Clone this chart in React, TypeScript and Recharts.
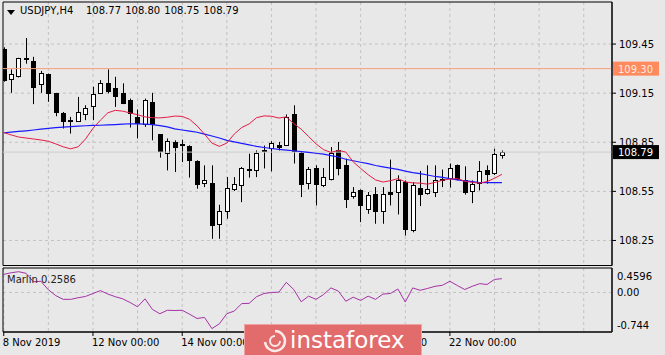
import React from 'react'
import {
  ComposedChart,
  Bar,
  Line,
  XAxis,
  YAxis,
  CartesianGrid,
  ReferenceLine,
  ReferenceArea,
} from 'recharts'

// USDJPY H4, bar 0 = 8 Nov 2019 00:00
const opens = [
  109.42, 109.234, 109.254, 109.365, 109.348, 109.205, 109.27, 109.152, 109.026, 108.985,
  108.98, 109.021, 109.07, 109.154, 109.21, 109.179, 109.152, 109.111, 109.005, 108.96,
  109.097, 108.899, 108.784, 108.852, 108.838, 108.825, 108.735, 108.603, 108.603, 108.352,
  108.433, 108.562, 108.587, 108.683, 108.678, 108.8, 108.817, 108.836, 108.836, 109.02,
  108.787, 108.603, 108.695, 108.587, 108.628, 108.801, 108.709, 108.519, 108.556, 108.444,
  108.536, 108.427, 108.546, 108.546, 108.607, 108.311, 108.572, 108.54, 108.546, 108.625,
  108.634, 108.709, 108.617, 108.552, 108.6, 108.683, 108.66, 108.77,
]
const highs = [
  109.43, 109.295, 109.366, 109.487, 109.372, 109.286, 109.27, 109.152, 109.035, 109.005,
  109.127, 109.076, 109.189, 109.23, 109.295, 109.25, 109.21, 109.117, 109.05, 109.117,
  109.152, 108.9, 108.873, 108.862, 108.866, 108.832, 108.74, 108.709, 108.709, 108.468,
  108.637, 108.637, 108.699, 108.78, 108.8, 108.83, 108.856, 108.852, 109.02, 109.076,
  108.79, 108.699, 108.709, 108.693, 108.821, 108.852, 108.75, 108.576, 108.562, 108.546,
  108.576, 108.576, 108.744, 108.648, 108.617, 108.607, 108.675, 108.709, 108.709, 108.683,
  108.72, 108.714, 108.703, 108.617, 108.735, 108.709, 108.81, 108.8,
]
const lows = [
  109.22, 109.152, 109.246, 109.33, 109.083, 109.152, 109.097, 109.009, 108.934, 108.903,
  108.978, 108.985, 108.985, 109.148, 109.148, 109.066, 109.083, 108.94, 108.873, 108.944,
  108.862, 108.756, 108.678, 108.668, 108.729, 108.634, 108.566, 108.576, 108.26, 108.26,
  108.383, 108.552, 108.484, 108.634, 108.637, 108.69, 108.672, 108.8, 108.832, 108.72,
  108.515, 108.562, 108.464, 108.576, 108.617, 108.648, 108.448, 108.505, 108.362, 108.413,
  108.352, 108.352, 108.464, 108.409, 108.28, 108.3, 108.46, 108.53, 108.515, 108.576,
  108.573, 108.617, 108.53, 108.478, 108.556, 108.597, 108.65, 108.75,
]
const closes = [
  109.23, 109.27, 109.362, 109.362, 109.189, 109.274, 109.152, 109.035, 108.978, 108.98,
  109.035, 109.062, 109.144, 109.215, 109.162, 109.133, 109.09, 109.03, 108.968, 109.111,
  108.96, 108.797, 108.858, 108.821, 108.84, 108.744, 108.597, 108.617, 108.346, 108.427,
  108.572, 108.597, 108.693, 108.686, 108.787, 108.802, 108.848, 108.821, 109.005, 108.795,
  108.597, 108.685, 108.597, 108.637, 108.787, 108.693, 108.505, 108.546, 108.464, 108.525,
  108.433, 108.536, 108.532, 108.617, 108.321, 108.587, 108.531, 108.567, 108.617, 108.628,
  108.693, 108.625, 108.546, 108.597, 108.674, 108.654, 108.78, 108.79,
]
const maFast = [
  108.909, 108.895, 108.882, 108.876, 108.87, 108.864, 108.856, 108.84, 108.822, 108.81,
  108.822, 108.87, 108.935, 108.985, 109.03, 109.045, 109.04, 109.029, 109.018, 109.005,
  109.0, 108.999, 109.003, 109.01, 109.008, 108.99, 108.95, 108.9, 108.845, 108.825,
  108.845, 108.9, 108.94, 108.962, 109.0, 109.011, 109.009, 108.998, 109.005, 108.964,
  108.93, 108.885, 108.84, 108.805, 108.788, 108.8, 108.79, 108.73, 108.69, 108.652,
  108.62, 108.607, 108.615, 108.628, 108.608, 108.602, 108.6, 108.594, 108.605, 108.618,
  108.625, 108.628, 108.612, 108.605, 108.6, 108.61, 108.63, 108.654,
]
const maSlow = [
  108.908, 108.912, 108.916, 108.92, 108.925, 108.93, 108.935, 108.94, 108.943, 108.946,
  108.949, 108.951, 108.953, 108.954, 108.956, 108.958, 108.961, 108.963, 108.962, 108.961,
  108.958, 108.952, 108.944, 108.932, 108.925, 108.918, 108.911, 108.9, 108.888, 108.876,
  108.862, 108.852, 108.843, 108.834, 108.825, 108.818, 108.812, 108.806, 108.802, 108.798,
  108.793, 108.788, 108.783, 108.777, 108.768, 108.76, 108.746, 108.737, 108.728, 108.719,
  108.708, 108.7, 108.692, 108.684, 108.674, 108.665, 108.658, 108.65, 108.641, 108.635,
  108.628, 108.62, 108.614, 108.609, 108.604, 108.603, 108.603, 108.603,
]
const marlin = [
  0.34, 0.37, 0.39, 0.36, 0.2, 0.21, 0.05, -0.06, -0.13, -0.13,
  -0.1, -0.075, -0.02, 0.035, -0.03, -0.08, -0.12, -0.19, -0.27, -0.12,
  -0.32, -0.4, -0.335, -0.34, -0.335, -0.41, -0.49, -0.47, -0.68, -0.59,
  -0.4, -0.35, -0.21, -0.205, -0.08, -0.02, 0.0, 0.005, 0.19, 0.055,
  -0.175, -0.07, -0.13, -0.04, 0.085, 0.025, -0.165, -0.09, -0.15, -0.07,
  -0.13, -0.03, -0.02, 0.065, -0.18, 0.085, 0.04, 0.075, 0.115, 0.135,
  0.21, 0.13, 0.055, 0.115, 0.165, 0.15, 0.245, 0.2586,
]

const timeTicks = [0, 12, 24, 36, 48, 60]
const timeLabels = ['8 Nov 2019', '12 Nov 00:00', '14 Nov 00:00', '18 Nov 00:00', '20 Nov 00:00', '22 Nov 00:00']
const gridIdx = [0, 6, 12, 18, 24, 30, 36, 42, 48, 54, 60, 66, 72, 78]
const priceTicks = [108.25, 108.55, 108.85, 109.15, 109.45]
const marlinTicks = [-0.744, 0, 0.4596]
const marlinLabels = ['-0.744', '0.00', '0.4596']
const hLine = 109.3
const lastPrice = 108.79

const X_DOMAIN: [number, number] = [-0.1, 81.8]
const P_DOMAIN: [number, number] = [108.097, 109.707]
const M_DOMAIN: [number, number] = [-0.744, 0.4596]

const FONT = '"DejaVu Sans", Verdana, sans-serif'
const BG = '#e8e8e8'
const GRID = '#c2c2c2'

const data = opens.map((o, i) => ({
  i,
  o,
  h: highs[i],
  l: lows[i],
  c: closes[i],
  range: [lows[i], highs[i]],
  fast: maFast[i],
  slow: maSlow[i],
  marlin: marlin[i],
}))

function Candle(props: any) {
  const { x, y, width, height, payload } = props
  if (!payload || height == null || isNaN(y)) return null
  const { o, h, l, c } = payload
  const cx = Math.round(x + width / 2) + 0.5
  const k = h > l ? height / (h - l) : 0
  const top = Math.round(y + (h - Math.max(o, c)) * k) + 0.5
  let bot = Math.round(y + (h - Math.min(o, c)) * k) + 0.5
  if (bot - top < 1) bot = top + 1
  const bull = c >= o
  return (
    <g>
      <line x1={cx} x2={cx} y1={y} y2={y + height} stroke="#000" strokeWidth={1} />
      <rect x={cx - 2} y={top} width={4} height={bot - top} fill={bull ? '#fff' : '#000'} stroke="#000" strokeWidth={1} />
    </g>
  )
}

function PriceTag(props: any) {
  const { viewBox, text, bg, fg } = props
  if (!viewBox) return null
  const x = viewBox.x + viewBox.width + 1
  const y = viewBox.y
  return (
    <g>
      <rect x={x} y={y - 7} width={46} height={14} fill={bg} />
      <text x={x + 5} y={y + 4} fill={fg} fontSize={10} fontFamily={FONT}>
        {text}
      </text>
    </g>
  )
}

function PriceTick(props: any) {
  const { x, y, payload } = props
  return (
    <text x={x} y={y} dy={3.5} textAnchor="start" fontSize={10} fontFamily={FONT} fill="#000">
      {payload.value.toFixed(2)}
    </text>
  )
}

function MarlinTick(props: any) {
  const { x, y, payload } = props
  const idx = marlinTicks.indexOf(payload.value)
  // MT4 keeps the min/max labels inside the sub-window
  const dy = idx === 2 ? 12 : idx === 0 ? -3 : 3.5
  return (
    <text x={x} y={y} dy={dy} textAnchor="start" fontSize={10} fontFamily={FONT} fill="#000">
      {marlinLabels[idx]}
    </text>
  )
}

function TimeTick(props: any) {
  const { x, y, payload } = props
  const idx = timeTicks.indexOf(payload.value)
  return (
    <text x={x - 1} y={y} dy={8} textAnchor="start" fontSize={10} fontFamily={FONT} fill="#000">
      {timeLabels[idx]}
    </text>
  )
}

function Watermark() {
  return (
    <div
      style={{
        position: 'absolute',
        left: 244,
        top: 324,
        width: 176,
        height: 31,
        background: '#e26b6b',
        border: '1px solid #efa3a3',
        borderBottom: 'none',
      }}
    >
      <svg width={40} height={31} style={{ position: 'absolute', left: 10, top: 0 }}>
        <path d="M20 6 A10 10 0 1 1 10 17" fill="none" stroke="#fff" strokeWidth={2.5} opacity={0.85} />
        <path d="M20 11 A5 5 0 1 0 25 16" fill="none" stroke="#fff" strokeWidth={2} opacity={0.85} />
      </svg>
      <span
        style={{
          position: 'absolute',
          left: 45,
          top: 1,
          color: '#fff',
          fontFamily: FONT,
          fontSize: 23,
          lineHeight: '28px',
        }}
      >
        instaforex
      </span>
    </div>
  )
}

export default function App() {
  return (
    <div
      style={{
        position: 'absolute',
        left: 0,
        top: 0,
        width: 665,
        height: 355,
        background: BG,
        overflow: 'hidden',
        fontFamily: FONT,
      }}
    >
      <div style={{ position: 'absolute', left: 0, top: 0 }}>
        <ComposedChart
          width={665}
          height={268}
          data={data}
          margin={{ top: 2, right: 0, bottom: 2.5, left: 3 }}
        >
          <CartesianGrid
            stroke={GRID}
            strokeDasharray="3 3"
            verticalValues={gridIdx}
            horizontalValues={priceTicks}
          />
          <XAxis dataKey="i" type="number" domain={X_DOMAIN} ticks={gridIdx} allowDataOverflow hide />
          <YAxis
            orientation="right"
            domain={P_DOMAIN}
            ticks={priceTicks}
            interval={0}
            allowDataOverflow
            width={53}
            tickSize={4}
            tickMargin={3}
            tick={<PriceTick />}
            axisLine={{ stroke: '#000' }}
            tickLine={{ stroke: '#000' }}
          />
          <ReferenceLine y={lastPrice} stroke="#cdcdcd" strokeWidth={1} label={<PriceTag text="108.79" bg="#000" fg="#fff" />} />
          <ReferenceLine y={hLine} stroke="#f5a07c" strokeWidth={1} label={<PriceTag text="109.30" bg="#fe8a5e" fg="#fde9e0" />} />
          <Bar dataKey="range" barSize={5} shape={<Candle />} isAnimationActive={false} />
          <Line type="linear" dataKey="slow" stroke="#1a1aff" strokeWidth={1.2} dot={false} isAnimationActive={false} />
          <Line type="linear" dataKey="fast" stroke="#e41c44" strokeWidth={1} dot={false} isAnimationActive={false} />
          <ReferenceArea
            x1={X_DOMAIN[0]}
            x2={X_DOMAIN[1]}
            y1={P_DOMAIN[0]}
            y2={P_DOMAIN[1]}
            fill="none"
            fillOpacity={0}
            stroke="#000"
            strokeWidth={1}
          />
        </ComposedChart>
      </div>

      <div style={{ position: 'absolute', left: 0, top: 266 }}>
        <ComposedChart width={665} height={89} data={data} margin={{ top: 2, right: 0, bottom: 0, left: 3 }}>
          <CartesianGrid
            stroke={GRID}
            strokeDasharray="3 3"
            verticalValues={gridIdx}
            horizontalValues={[0]}
          />
          <XAxis
            dataKey="i"
            type="number"
            domain={X_DOMAIN}
            ticks={timeTicks}
            interval={0}
            allowDataOverflow
            height={23}
            tickSize={4}
            tickMargin={2}
            tick={<TimeTick />}
            axisLine={{ stroke: '#000' }}
            tickLine={{ stroke: '#000' }}
          />
          <YAxis
            orientation="right"
            domain={M_DOMAIN}
            ticks={marlinTicks}
            interval={0}
            allowDataOverflow
            width={53}
            tickSize={4}
            tickMargin={1}
            tickLine={false}
            tick={<MarlinTick />}
            axisLine={{ stroke: '#000' }}
          />
          <Line type="linear" dataKey="marlin" stroke="#a532a5" strokeWidth={1} dot={false} isAnimationActive={false} />
          <ReferenceArea
            x1={X_DOMAIN[0]}
            x2={X_DOMAIN[1]}
            y1={M_DOMAIN[0]}
            y2={M_DOMAIN[1]}
            fill="none"
            fillOpacity={0}
            stroke="#000"
            strokeWidth={1}
          />
        </ComposedChart>
      </div>

      <svg width={14} height={10} style={{ position: 'absolute', left: 6, top: 8 }}>
        <polygon points="1,2 9,2 5,7" fill="#000" />
      </svg>
      <div style={{ position: 'absolute', left: 20, top: 5, fontSize: 10, color: '#000', whiteSpace: 'pre' }}>
        USDJPY,H4
      </div>
      <div style={{ position: 'absolute', left: 86, top: 5, fontSize: 10, color: '#000', whiteSpace: 'pre', wordSpacing: 1 }}>
        108.77 108.80 108.75 108.79
      </div>
      <div style={{ position: 'absolute', left: 7, top: 274, fontSize: 10, color: '#222', whiteSpace: 'pre' }}>
        Marlin 0.2586
      </div>

      <Watermark />
    </div>
  )
}
